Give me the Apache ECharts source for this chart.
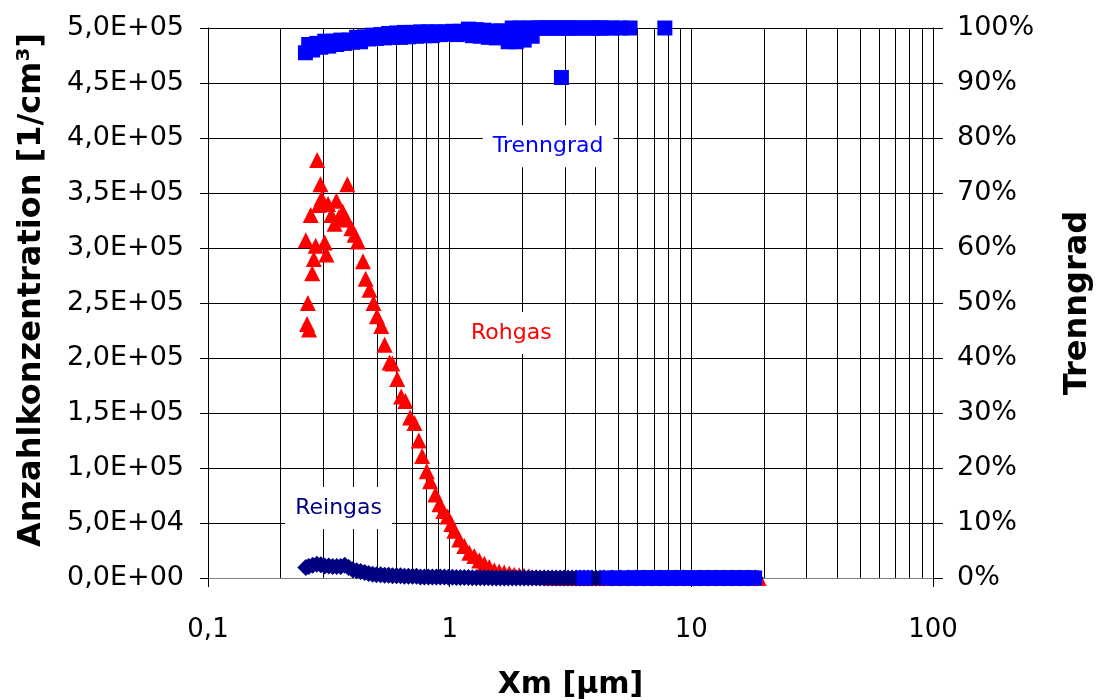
<!DOCTYPE html>
<html>
<head>
<meta charset="utf-8">
<title>Trenngrad</title>
<script src="https://cdn.jsdelivr.net/npm/echarts@6.0.0/dist/echarts.min.js"></script>
<style>
  html, body { margin: 0; padding: 0; background: #fff; }
  #chart { width: 1097px; height: 700px; }
</style>
</head>
<body>
<div id="chart"></div>
<script>
// Rohgas (red triangles): particle size [µm] and number concentration [1/cm³]
const rohgasSize = [0.254, 0.257, 0.259, 0.262, 0.266, 0.270, 0.274, 0.279, 0.283, 0.287,
  0.292, 0.295, 0.304, 0.309, 0.314, 0.324, 0.334, 0.340, 0.348, 0.361,
  0.374, 0.377, 0.392, 0.404, 0.417, 0.438, 0.449, 0.466, 0.484, 0.500,
  0.521, 0.538, 0.564, 0.579, 0.607, 0.630, 0.656, 0.686, 0.715, 0.745,
  0.769, 0.804, 0.830, 0.873, 0.907, 0.942, 0.981, 1.016, 1.045, 1.096,
  1.150, 1.206, 1.265, 1.326, 1.391, 1.458, 1.530, 1.604, 1.682, 1.764,
  1.849, 1.940, 2.03, 2.13, 2.28, 2.46, 2.65, 2.86, 3.21, 3.60,
  4.03, 4.52, 5.07, 5.68, 6.36, 7.13, 7.99, 8.96, 10.0, 11.3,
  12.6, 14.1, 15.8, 17.8, 19.0];
const rohgasConc = [307000, 231000, 250000, 226000, 330000, 277000, 290000, 302000, 380000, 339000,
  358000, 345000, 305000, 294000, 340000, 330000, 322000, 343000, 328000, 333000,
  326000, 358000, 318000, 312000, 306000, 288000, 272000, 262000, 250000, 238000,
  229000, 212000, 196000, 195000, 181000, 165000, 161000, 146000, 141000, 125000,
  111000, 97000, 88000, 76000, 67000, 61000, 56000, 49000, 43000, 35000,
  29000, 23000, 20000, 16000, 13000, 10000, 7000, 6000, 5000, 4000,
  3000, 2500, 2000, 1500, 1000, 600, 300, 0, 0, 0,
  0, 0, 0, 0, 0, 0, 0, 0, 0, 0,
  0, 0, 0, 0, 0];

// Reingas (navy diamonds)
const reingasSize = [0.254, 0.261, 0.271, 0.282, 0.293, 0.304, 0.316, 0.328, 0.341, 0.354,
  0.368, 0.382, 0.397, 0.412, 0.428, 0.445, 0.462, 0.480, 0.498, 0.518,
  0.538, 0.559, 0.580, 0.603, 0.626, 0.650, 0.675, 0.702, 0.729, 0.757,
  0.786, 0.817, 0.848, 0.881, 0.915, 0.951, 0.988, 1.026, 1.066, 1.107,
  1.150, 1.195, 1.241, 1.289, 1.339, 1.391, 1.445, 1.501, 1.559, 1.619,
  1.682, 1.747, 1.815, 1.885, 1.958, 2.034, 2.113, 2.195, 2.280, 2.368,
  2.460, 2.555, 2.654, 2.757, 2.864, 2.975, 3.090, 3.210, 3.334, 3.463,
  3.597, 3.737, 3.882, 4.032, 4.188, 4.350, 4.69, 5.07, 5.46, 5.90,
  6.36, 6.87, 7.41, 7.99, 8.62, 9.31, 10.0, 10.8, 11.7, 12.6,
  13.6, 14.7, 15.8, 17.1, 18.4];
const reingasConc = [9500, 10500, 11500, 12500, 12000, 11000, 11000, 10500, 10500, 10500,
  11500, 9500, 7500, 6500, 6000, 5000, 4000, 3500, 3000, 3000,
  2500, 2500, 2000, 2000, 2000, 1500, 1500, 1500, 1500, 1000,
  1000, 1000, 1000, 1000, 800, 800, 700, 600, 500, 500,
  400, 400, 300, 300, 200, 200, 200, 100, 100, 100,
  0, 0, 0, 0, 0, 0, 0, 0, 0, 0,
  0, 0, 0, 0, 0, 0, 0, 0, 0, 0,
  0, 0, 0, 0, 0, 0, 0, 0, 0, 0,
  0, 0, 0, 0, 0, 0, 0, 0, 0, 0,
  0, 0, 0, 0, 0];

// Trenngrad (blue squares), in percent
const trenngradSize = [0.253, 0.261, 0.271, 0.282, 0.293, 0.304, 0.316, 0.328, 0.341, 0.354,
  0.368, 0.382, 0.397, 0.412, 0.428, 0.445, 0.462, 0.480, 0.498, 0.518,
  0.538, 0.559, 0.580, 0.603, 0.626, 0.650, 0.675, 0.702, 0.729, 0.757,
  0.786, 0.817, 0.848, 0.881, 0.915, 0.951, 0.988, 1.026, 1.066, 1.107,
  1.150, 1.195, 1.241, 1.289, 1.339, 1.391, 1.445, 1.501, 1.559, 1.619,
  1.682, 1.747, 1.815, 1.885, 1.958, 2.034, 2.113, 2.195, 2.280, 2.368,
  2.460, 2.555, 2.654, 2.757, 2.864, 2.90, 2.975, 3.090, 3.210, 3.334,
  3.463, 3.597, 3.737, 3.882, 4.032, 4.188, 4.350, 4.519, 4.694, 4.876,
  5.065, 5.261, 5.58, 5.677, 5.897, 6.125, 6.363, 6.609, 6.865, 7.131,
  7.408, 7.695, 7.77, 7.993, 8.303, 8.624, 8.958, 9.306, 9.666, 10.04,
  10.43, 10.83, 11.25, 11.69, 12.14, 12.61, 13.10, 13.61, 14.14, 14.69,
  15.25, 15.85, 16.46, 17.10, 17.76, 18.27];
const trenngradPct = [95.5, 97.0, 96.0, 97.2, 96.5, 97.6, 96.7, 97.6, 97.0, 97.8,
  97.2, 97.8, 97.4, 98.3, 97.5, 98.4, 98.0, 98.7, 98.1, 98.8,
  98.2, 99.0, 98.3, 99.1, 98.3, 99.2, 98.4, 99.2, 98.5, 99.3,
  98.6, 99.3, 98.6, 99.3, 98.8, 99.3, 98.9, 99.4, 98.8, 99.4,
  98.9, 99.8, 98.6, 99.7, 98.5, 99.6, 98.3, 99.4, 98.2, 99.5,
  98.3, 97.5, 100, 97.5, 100, 97.8, 100, 98.5, 100, 100,
  100, 100, 100, 100, 100, 91, 100, 100, 100, 100,
  100, 0, 100, 100, 100, 100, 100, 0, 100, 0,
  100, 0, 100, 0, 0, 0, 0, 0, 0, 0,
  0, 0, 100, 0, 0, 0, 0, 0, 0, 0,
  0, 0, 0, 0, 0, 0, 0, 0, 0, 0,
  0, 0, 0, 0, 0, 0];

// vertical grid lines between the decades of the log axis
const minorGrid = [0.2, 0.3, 0.4, 0.5, 0.6, 0.7, 0.8, 0.9,
  2, 3, 4, 5, 6, 7, 8, 9, 20, 30, 40, 50, 60, 70, 80, 90];

const FONT = 'DejaVu Sans';

function zip(xs, ys) {
  return xs.map((x, i) => [x, ys[i]]);
}

// 5,0E+05 style labels
function sci(v) {
  if (v === 0) return '0,0E+00';
  const e = Math.floor(Math.log10(v) + 1e-9);
  const m = v / Math.pow(10, e);
  return m.toFixed(1).replace('.', ',') + 'E+' + String(e).padStart(2, '0');
}

function boxLabel(text, color) {
  return {
    show: true,
    position: 'inside',
    formatter: text,
    color: color,
    fontFamily: FONT,
    fontSize: 22,
    backgroundColor: '#fff',
    padding: [10, 10]
  };
}

const chart = echarts.init(document.getElementById('chart'));

const option = {
  animation: false,
  backgroundColor: '#fff',
  grid: { left: 208, right: 164, top: 28, bottom: 122, outerBoundsMode: 'none' },
  xAxis: {
    type: 'log',
    logBase: 10,
    min: 0.1,
    max: 100,
    name: 'Xm [µm]',
    nameLocation: 'middle',
    nameGap: 92,
    nameTextStyle: { fontFamily: FONT, fontWeight: 'bold', fontSize: 30, color: '#000' },
    axisLine: { show: true, lineStyle: { color: '#808080', width: 1 } },
    axisTick: { show: true, length: 9, lineStyle: { color: '#000' } },
    axisLabel: {
      margin: 39, fontFamily: FONT, fontSize: 26, color: '#000',
      formatter: v => String(v).replace('.', ',')
    },
    splitLine: { show: true, lineStyle: { color: '#000', width: 1 } }
  },
  yAxis: [
    {
      type: 'value',
      position: 'left',
      min: 0,
      max: 500000,
      interval: 50000,
      name: 'Anzahlkonzentration [1/cm³]',
      nameLocation: 'middle',
      nameRotate: 90,
      nameGap: 160,
      nameTextStyle: {
        fontFamily: FONT, fontWeight: 'bold', fontSize: 32, color: '#000',
        padding: [0, 0, 0, 26]
      },
      axisLine: { show: true, lineStyle: { color: '#000', width: 1 } },
      axisTick: { show: true, length: 8, lineStyle: { color: '#000' } },
      axisLabel: { margin: 24, fontFamily: FONT, fontSize: 27, color: '#000', formatter: sci },
      splitLine: { show: true, lineStyle: { color: '#000', width: 1 } }
    },
    {
      type: 'value',
      position: 'right',
      min: 0,
      max: 100,
      interval: 10,
      name: 'Trenngrad',
      nameLocation: 'middle',
      nameRotate: 90,
      nameGap: 129,
      nameTextStyle: { fontFamily: FONT, fontWeight: 'bold', fontSize: 32, color: '#000' },
      axisLine: { show: true, lineStyle: { color: '#000', width: 1 } },
      axisTick: { show: true, length: 10, lineStyle: { color: '#000' } },
      axisLabel: { margin: 24, fontFamily: FONT, fontSize: 27, color: '#000', formatter: '{value}%' },
      splitLine: { show: false }
    }
  ],
  series: [
    {
      name: 'Rohgas',
      type: 'scatter',
      symbol: 'triangle',
      symbolSize: 16,
      itemStyle: { color: '#ff0000', opacity: 1 },
      data: zip(rohgasSize, rohgasConc),
      markLine: {
        silent: true,
        z: 1,
        symbol: ['none', 'none'],
        label: { show: false },
        lineStyle: { color: '#000', width: 1, type: 'solid' },
        data: minorGrid.map(v => ({ xAxis: v }))
      },
      markPoint: {
        symbol: 'rect',
        symbolSize: 1,
        itemStyle: { color: 'rgba(0,0,0,0)' },
        label: boxLabel('Rohgas', '#ff0000'),
        data: [{ coord: [1.8, 222700] }]
      }
    },
    {
      name: 'Reingas',
      type: 'scatter',
      symbol: 'diamond',
      symbolSize: 17,
      itemStyle: { color: '#000080', opacity: 1 },
      data: zip(reingasSize, reingasConc),
      markPoint: {
        symbol: 'rect',
        symbolSize: 1,
        itemStyle: { color: 'rgba(0,0,0,0)' },
        label: boxLabel('Reingas', '#000080'),
        data: [{ coord: [0.347, 63600] }]
      }
    },
    {
      name: 'Trenngrad',
      type: 'scatter',
      yAxisIndex: 1,
      symbol: 'rect',
      symbolSize: 15,
      itemStyle: { color: '#0000ff', opacity: 1 },
      data: zip(trenngradSize, trenngradPct),
      markPoint: {
        symbol: 'rect',
        symbolSize: 1,
        itemStyle: { color: 'rgba(0,0,0,0)' },
        label: boxLabel('Trenngrad', '#0000ff'),
        data: [{ coord: [2.555, 78.5] }]
      }
    }
  ]
};

chart.setOption(option);
</script>
</body>
</html>
